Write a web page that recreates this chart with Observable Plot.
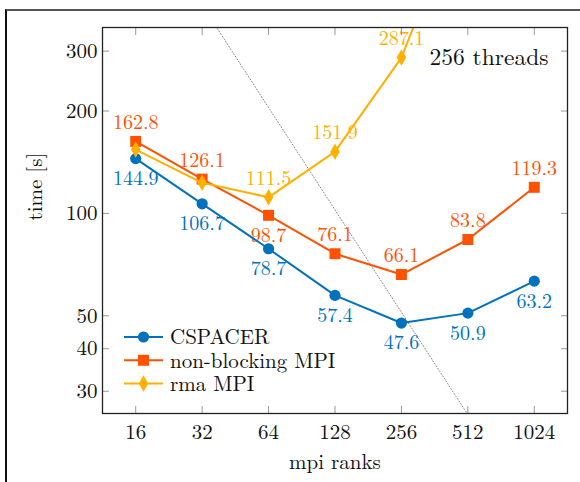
<!DOCTYPE html>
<html><head><meta charset="utf-8">
<script src="https://cdn.jsdelivr.net/npm/d3@7"></script>
<script src="https://cdn.jsdelivr.net/npm/@observablehq/plot@0.6"></script>
<style>
body{margin:0;background:#fff}
#wrap{position:relative;width:580px;height:482px;overflow:hidden;font-family:"Latin Modern Roman","Liberation Serif",serif}
#chart{position:absolute;left:0;top:0}
#outer{position:absolute;left:5px;top:9px;width:700px;height:600px;border-top:2px solid #555;border-left:2px solid #111;pointer-events:none}
</style></head><body>
<div id="wrap"><div id="chart"></div><div id="outer"></div></div>
<script>
// ---- data ----
const ranks = [16, 32, 64, 128, 256, 512, 1024];
const cspacer = [144.9, 106.7, 78.7, 57.4, 47.6, 50.9, 63.2];
const nonBlocking = [162.8, 126.1, 98.7, 76.1, 66.1, 83.8, 119.3];
const nonBlockingLabelBelow = [64];
const rmaRanks = [16, 32, 64, 128, 256, 512];
const rma = [154, 123, 111.5, 151.9, 287.1, 900];
const rmaLabelRanks = [64, 128, 256];
const idealRanks = [16, 1024];
const idealTime = [819, 12.8];
const xTicks = [16, 32, 64, 128, 256, 512, 1024];
const yTicks = [30, 40, 50, 100, 200, 300];
const seriesNames = ["CSPACER", "non-blocking MPI", "rma MPI"];
const annotation = "256 threads";
const xLabel = "mpi ranks";
const yLabel = "time [s]";

// ---- styles ----
const FONT = "Latin Modern Roman, Liberation Serif, serif";
const series = [
  {name: seriesNames[0], color: "#0072BD", symbol: "circle", r: 5.6, xs: ranks, ys: cspacer, labelRanks: ranks, below: ranks},
  {name: seriesNames[1], color: "#FF5200", symbol: "square", r: 6.2, xs: ranks, ys: nonBlocking, labelRanks: ranks, below: nonBlockingLabelBelow},
  {name: seriesNames[2], color: "#FFB000", symbol: "diamond", r: 5.0, xs: rmaRanks, ys: rma, labelRanks: rmaLabelRanks, below: []}
];
series.forEach(s => {
  s.rows = s.xs.map((x, i) => ({x, y: s.ys[i]}));
  s.labels = s.rows.filter(d => s.labelRanks.includes(d.x));
});
const ideal = idealRanks.map((x, i) => ({x, y: idealTime[i]}));

const marks = [
  Plot.line(ideal, {x: "x", y: "y", stroke: "#888", strokeWidth: 1, strokeDasharray: "1 2", clip: true}),
  ...series.flatMap(s => [
    Plot.text(s.labels.filter(d => !s.below.includes(d.x)), {x: "x", y: "y", text: d => d.y.toFixed(1), dy: -19, fill: s.color, fontSize: 20, fontFamily: FONT}),
    Plot.text(s.labels.filter(d => s.below.includes(d.x)), {x: "x", y: "y", text: d => d.y.toFixed(1), dy: 20, fill: s.color, fontSize: 20, fontFamily: FONT})
  ]),
  ...series.flatMap(s => [
    Plot.line(s.rows, {x: "x", y: "y", stroke: s.color, strokeWidth: 2, clip: true}),
    Plot.dot(s.rows, {x: "x", y: "y", symbol: s.symbol, r: s.r, fill: s.color, stroke: "none", clip: true})
  ]),
  Plot.axisY(yTicks, {anchor: "left", tickSize: -7, tickPadding: 12, stroke: "#999", fill: "#111", fontSize: 21, fontFamily: FONT, label: null, tickFormat: d => String(d)}),
  Plot.axisY(yTicks, {anchor: "right", tickSize: -7, stroke: "#999", label: null, tickFormat: () => ""}),
  Plot.axisX(xTicks, {anchor: "bottom", tickSize: -7, tickPadding: 18, stroke: "#999", fill: "#111", fontSize: 21, fontFamily: FONT, label: null, tickFormat: d => String(d)}),
  Plot.axisX(xTicks, {anchor: "top", tickSize: -7, stroke: "#999", label: null, tickFormat: () => ""}),
  Plot.frame({stroke: "#222", strokeWidth: 1.3}),
  Plot.text([annotation], {text: d => d, frameAnchor: "top-right", textAnchor: "end", lineAnchor: "middle", dx: -19, dy: 30, fontSize: 23.5, fontFamily: FONT, fill: "#111"}),
  Plot.text([yLabel], {text: d => d, frameAnchor: "left", rotate: -90, dx: -67, fontSize: 21, fontFamily: FONT, fill: "#111"}),
  Plot.text([xLabel], {text: d => d, frameAnchor: "bottom", lineAnchor: "middle", dy: 49, fontSize: 21, fontFamily: FONT, fill: "#111"})
];

const chart = Plot.plot({
  width: 580, height: 482,
  marginLeft: 102, marginRight: 13, marginTop: 27, marginBottom: 69,
  style: "font-family: 'Latin Modern Roman', 'Liberation Serif', serif; font-size: 20px; background: #fff; color: #111;",
  x: {type: "log", base: 2, domain: [16 / Math.SQRT2, 1024 * Math.SQRT2]},
  y: {type: "log", domain: [25.8, 352]},
  marks
});
document.getElementById("chart").appendChild(chart);

// ---- legend (inside plot, bottom-left) ----
const svg = d3.select(chart);
const lg = svg.append("g").attr("transform", "translate(124,337)");
const symbols = {circle: d3.symbolCircle, square: d3.symbolSquare, diamond: d3.symbolDiamond};
series.forEach((s, i) => {
  const g = lg.append("g").attr("transform", `translate(0,${i * 23.3})`);
  g.append("line").attr("x1", 0).attr("x2", 39).attr("y1", 0).attr("y2", 0).attr("stroke", s.color).attr("stroke-width", 2);
  g.append("path").attr("d", d3.symbol(symbols[s.symbol], Math.PI * s.r * s.r)()).attr("transform", "translate(19.5,0)").attr("fill", s.color);
  g.append("text").attr("x", 46).attr("y", 0).attr("dy", "0.35em").attr("text-anchor", "start")
    .attr("font-size", 21).attr("fill", "#111").text(s.name);
});
svg.selectAll("text").style("font-family", "'Latin Modern Roman', 'Liberation Serif', serif");
</script>
</body></html>
